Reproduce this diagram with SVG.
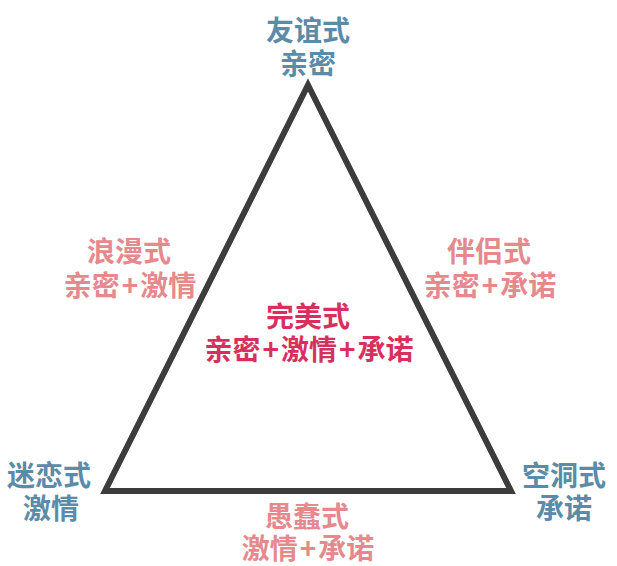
<svg xmlns="http://www.w3.org/2000/svg" width="617" height="566" viewBox="0 0 617 566">
<style>
text{font-family:"Noto Sans CJK SC","Noto Sans",sans-serif;font-size:28px;font-weight:700;text-anchor:middle;dominant-baseline:central}
.v{fill:#5a8ba8}
.e{fill:#e5898d}
.c{fill:#d8305e}
</style>
<rect width="617" height="566" fill="#ffffff"/>
<g id="connectors">
<polygon points="308,85 511,491 105,491" fill="none" stroke="#3c3c3c" stroke-width="6" stroke-linejoin="miter"/>
</g>
<g id="liking"><text class="v" x="308" y="29">友谊式</text><text class="v" x="308" y="62">亲密</text></g>
<g id="romantic"><text class="e" x="129" y="250">浪漫式</text><text class="e" x="130" y="284">亲密<tspan dx="2">+</tspan><tspan dx="2">激情</tspan></text></g>
<g id="companionate"><text class="e" x="489" y="250">伴侣式</text><text class="e" x="490" y="284">亲密<tspan dx="2">+</tspan><tspan dx="2">承诺</tspan></text></g>
<g id="consummate"><text class="c" x="308" y="315">完美式</text><text class="c" x="309" y="348">亲密<tspan dx="2">+</tspan><tspan dx="2">激情</tspan><tspan dx="2">+</tspan><tspan dx="2">承诺</tspan></text></g>
<g id="infatuation"><text class="v" x="49" y="474">迷恋式</text><text class="v" x="51" y="507">激情</text></g>
<g id="empty"><text class="v" x="564" y="474">空洞式</text><text class="v" x="564" y="507">承诺</text></g>
<g id="fatuous"><text class="e" x="307" y="515">愚蠢式</text><text class="e" x="308" y="547">激情<tspan dx="2">+</tspan><tspan dx="2">承诺</tspan></text></g>
</svg>
